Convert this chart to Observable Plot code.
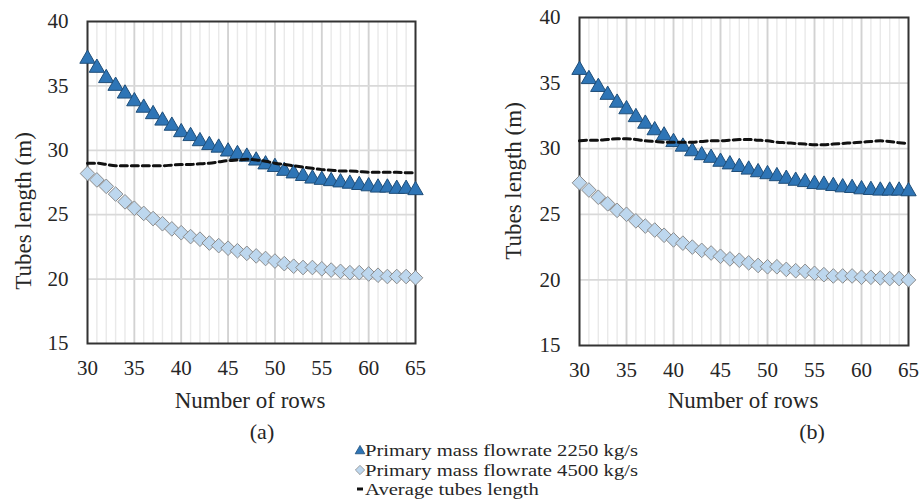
<!DOCTYPE html>
<html><head><meta charset="utf-8">
<script src="https://cdn.jsdelivr.net/npm/d3@7"></script>
<script src="https://cdn.jsdelivr.net/npm/@observablehq/plot@0.6"></script>
<style>
body{margin:0;background:#fff;font-family:"Liberation Serif",serif;color:#262626}
#wrap{position:relative;width:920px;height:499px;overflow:hidden}
.abs{position:absolute;white-space:nowrap;font-family:"Liberation Serif",serif}
.panel{position:absolute;top:0}
.panel svg{overflow:visible}
#wrap svg text{font-family:"Liberation Serif",serif !important;fill:#262626}
</style></head><body><div id="wrap"></div>
<script>
// Number of rows (x categories)
const rows = [30,31,32,33,34,35,36,37,38,39,40,41,42,43,44,45,46,47,48,49,50,51,52,53,54,55,56,57,58,59,60,61,62,63,64,65];
// Panel (a)
const lenA2250 = [37.1,36.4,35.6,35.0,34.4,33.8,33.3,32.8,32.3,31.9,31.4,31.1,30.7,30.4,30.2,29.9,29.7,29.5,29.2,28.9,28.7,28.4,28.2,28.0,27.8,27.7,27.6,27.5,27.4,27.3,27.2,27.1,27.1,27.0,27.0,26.9];
const lenA4500 = [28.2,27.7,27.2,26.6,26.0,25.5,25.1,24.7,24.3,23.9,23.6,23.3,23.1,22.8,22.6,22.4,22.2,22.0,21.8,21.6,21.4,21.2,21.0,20.9,20.9,20.8,20.7,20.6,20.5,20.5,20.4,20.3,20.2,20.2,20.2,20.1];
const avgA     = [29.0,29.0,28.9,28.8,28.8,28.8,28.8,28.8,28.8,28.85,28.9,28.9,28.95,29.0,29.1,29.2,29.25,29.3,29.25,29.15,29.0,28.9,28.8,28.7,28.6,28.5,28.45,28.4,28.4,28.35,28.3,28.3,28.3,28.3,28.25,28.25];
// Panel (b)
const lenB2250 = [36.0,35.3,34.7,34.1,33.5,33.0,32.4,31.9,31.4,31.0,30.5,30.15,29.8,29.5,29.3,29.0,28.8,28.6,28.4,28.2,28.05,27.9,27.7,27.55,27.45,27.3,27.25,27.15,27.05,27.0,26.9,26.85,26.8,26.8,26.8,26.75];
const lenB4500 = [27.4,26.85,26.3,25.8,25.3,25.0,24.5,24.1,23.8,23.4,23.05,22.8,22.5,22.25,22.05,21.8,21.6,21.5,21.3,21.1,21.0,21.0,20.8,20.7,20.65,20.5,20.4,20.3,20.3,20.3,20.2,20.2,20.15,20.1,20.1,20.0];
const avgB     = [30.6,30.65,30.65,30.7,30.75,30.75,30.7,30.6,30.55,30.5,30.5,30.5,30.5,30.55,30.6,30.6,30.65,30.7,30.7,30.65,30.6,30.5,30.45,30.4,30.35,30.3,30.3,30.35,30.4,30.45,30.5,30.55,30.6,30.55,30.45,30.4];
// Ticks
const xTicks = [30,35,40,45,50,55,60,65];
const xMajorGrid = [35,40,45,50,55,60];
const yTicks = [15,20,25,30,35,40];
const yGrid = [20,25,30,35];
// Texts
const yTitle = "Tubes length (m)";
const xTitle = "Number of rows";
const panelLabels = ["(a)","(b)"];
const seriesNames = ["Primary mass flowrate 2250 kg/s","Primary mass flowrate 4500 kg/s","Average tubes length"];

const C = {tri:"#2E75B6", triStroke:"#1F4E79", dia:"#BDD7EE", diaStroke:"#8C8C8C", avg:"#111111"};
const FONT = '"Liberation Serif", serif';

function panel(l2250, l4500, avg, m) {
  const d1 = rows.map((x,i)=>({x, y:l2250[i]}));
  const d2 = rows.map((x,i)=>({x, y:l4500[i]}));
  const d3a = rows.map((x,i)=>({x, y:avg[i]}));
  return Plot.plot({
    width: m.width, height: 420,
    marginLeft: m.left, marginRight: m.right, marginTop: m.top, marginBottom: 420 - m.bottom,
    x: {domain:[30,65]}, y: {domain:[15,40]},
    style: {fontFamily: FONT, fontSize: "21px", color: "#262626", background: "transparent", overflow: "visible"},
    marks: [
      Plot.ruleX(rows, {stroke:"#e9e9e9", strokeWidth:1.4}),
      Plot.ruleX(xMajorGrid, {stroke:"#d2d2d2", strokeWidth:1.8}),
      Plot.ruleY(yGrid, {stroke:"#d9d9d9", strokeWidth:1.8}),
      Plot.axisX({ticks: xTicks, tickSize: 0, tickPadding: 17, label: null, fontSize: 21}),
      Plot.axisY({ticks: yTicks, tickSize: 0, tickPadding: 19, label: null, fontSize: 21}),
      Plot.frame({stroke:"#333", strokeWidth:2}),
      Plot.dot(d2, {x:"x", y:"y", symbol:"diamond2", r:6.6, fill:C.dia, stroke:C.diaStroke, strokeWidth:1}),
      Plot.dot(d1, {x:"x", y:"y", symbol:"triangle", r:5.7, fill:C.tri, stroke:C.triStroke, strokeWidth:1}),
      Plot.line(d3a, {x:"x", y:"y", stroke:C.avg, strokeWidth:3, strokeDasharray:"7,4", curve:"monotone-x"})
    ]
  });
}

const wrap = document.getElementById("wrap");
function addPanel(el, left) {
  const d = document.createElement("div");
  d.className = "panel"; d.style.left = left + "px";
  d.appendChild(el); wrap.appendChild(d);
}
addPanel(panel(lenA2250, lenA4500, avgA, {width:440, left:87, right:25, top:21, bottom:343}), 0);
addPanel(panel(lenB2250, lenB4500, avgB, {width:450, left:109, right:12, top:17, bottom:345}), 470);

function text(str, x, y, size, opts={}) {
  const d = document.createElement("div");
  d.className = "abs";
  d.textContent = str;
  d.style.fontSize = size + "px";
  d.style.lineHeight = (opts.lh || size) + "px";
  d.style.left = x + "px"; d.style.top = y + "px";
  if (opts.rotate) d.style.transform = "translate(-50%,-50%) rotate(-90deg)";
  else if (opts.anchor === "start") { d.style.transformOrigin = "0 50%"; d.style.transform = "translate(0,-50%)" + (opts.sx ? ` scaleX(${opts.sx})` : ""); }
  else d.style.transform = "translate(-50%,-50%)";
  wrap.appendChild(d);
  return d;
}
// axis titles
text(yTitle, 23, 211, 23, {rotate:true});
text(yTitle, 513, 181, 23, {rotate:true});
text(xTitle, 250, 400, 23);
text(xTitle, 743, 400, 23);
// panel labels
text(panelLabels[0], 262, 432, 22);
text(panelLabels[1], 812, 432, 22);

// legend
const legendY = [450, 469.5, 489];
function legendMarker(kind, y) {
  const svg = d3.select(wrap).append("svg")
    .style("position","absolute").style("left","352px").style("top",(y-8)+"px")
    .attr("width",16).attr("height",16);
  if (kind === "tri") {
    svg.append("path").attr("transform","translate(8,9)")
      .attr("d", d3.symbol(d3.symbolTriangle, 40)())
      .attr("fill", C.tri).attr("stroke", C.triStroke).attr("stroke-width",0.8);
  } else if (kind === "dia") {
    svg.append("path").attr("transform","translate(8,8)")
      .attr("d", d3.symbol(d3.symbolDiamond2, 55)())
      .attr("fill", C.dia).attr("stroke", C.diaStroke).attr("stroke-width",0.8);
  } else {
    svg.append("line").attr("x1",5).attr("x2",11).attr("y1",8).attr("y2",8)
      .attr("stroke", C.avg).attr("stroke-width",3);
  }
}
["tri","dia","avg"].forEach((k,i)=>{
  legendMarker(k, legendY[i]);
  text(seriesNames[i], 365, legendY[i], 17.5, {anchor:"start", lh:17, sx:1.18});
});
</script>
</body></html>
